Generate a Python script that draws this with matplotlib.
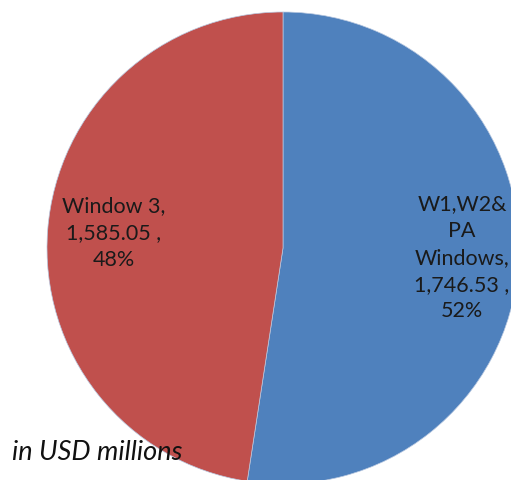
import matplotlib.pyplot as plt

# данные диаграммы
categories = ['W1,W2&\nPA\nWindows', 'Window 3']
values = [1746.53, 1585.05]
colors = ['#4F81BD', '#C0504D']

total = sum(values)
labels = [f"{c},\n{v:,.2f} ,\n{v / total:.0%}" for c, v in zip(categories, values)]

fig = plt.figure(figsize=(5.11, 4.8), dpi=100)
ax = fig.add_axes([0, 0, 1, 1])

wedges, texts = ax.pie(
    values,
    colors=colors,
    startangle=90,
    counterclock=False,
    radius=236,
    center=(283, 232),
    wedgeprops={'linewidth': 0.5, 'edgecolor': '#b8c8e0'},
)

# подписи секторов
label_pos = [(462, 222), (114, 247)]
for lbl, (x, y) in zip(labels, label_pos):
    ax.text(x, y, lbl, ha='center', va='center', fontsize=15.5,
            family='Lato', color='#1a1a1a', linespacing=1.42)

ax.text(12, 27, 'in USD millions', ha='left', va='center', fontsize=19.5,
        family='Lato', style='italic', color='#111111')

ax.set_xlim(0, 511)
ax.set_ylim(0, 480)
ax.set_aspect('auto')
ax.axis('off')

plt.savefig('out.png', dpi=100)
